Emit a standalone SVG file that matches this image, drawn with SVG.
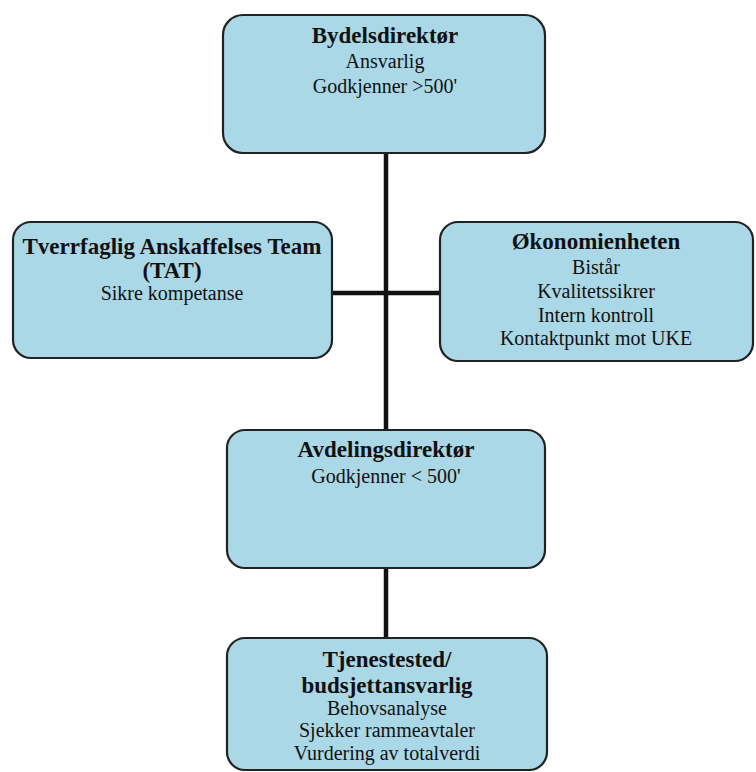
<svg xmlns="http://www.w3.org/2000/svg" width="756" height="772" viewBox="0 0 756 772">
<style>
.box{fill:#aad8e7;stroke:#222;stroke-width:2.2}
.conn{stroke:#111;stroke-width:4.5;fill:none}
text{font-family:"Liberation Serif","Times New Roman",serif;fill:#111;text-anchor:middle}
.b{font-weight:bold;font-size:23px}
.r{font-size:20px}
</style>
<rect width="756" height="772" fill="#fff"/>
<g id="connectors">
<line class="conn" x1="386" y1="153" x2="386" y2="430"/>
<line class="conn" x1="332" y1="293" x2="440" y2="293"/>
<line class="conn" x1="386" y1="568" x2="386" y2="638"/>
</g>
<g id="bydelsdirektor">
<rect class="box" x="223" y="15" width="322" height="138" rx="20"/>
<text class="b" x="385" y="43">Bydelsdirektør</text>
<text class="r" x="385" y="68">Ansvarlig</text>
<text class="r" x="385" y="93">Godkjenner &gt;500'</text>
</g>
<g id="tat">
<rect class="box" x="13" y="222" width="319" height="136" rx="18"/>
<text class="b" x="172" y="254">Tverrfaglig Anskaffelses Team</text>
<text class="b" x="172" y="278">(TAT)</text>
<text class="r" x="172" y="300">Sikre kompetanse</text>
</g>
<g id="okonomienheten">
<rect class="box" x="440" y="222" width="313" height="139" rx="18"/>
<text class="b" x="596" y="249">Økonomienheten</text>
<text class="r" x="596" y="274">Bistår</text>
<text class="r" x="596" y="298">Kvalitetssikrer</text>
<text class="r" x="596" y="322">Intern kontroll</text>
<text class="r" x="596" y="345">Kontaktpunkt mot UKE</text>
</g>
<g id="avdelingsdirektor">
<rect class="box" x="227" y="430" width="318" height="138" rx="18"/>
<text class="b" x="386" y="457">Avdelingsdirektør</text>
<text class="r" x="386" y="483">Godkjenner &lt; 500'</text>
</g>
<g id="tjenestested">
<rect class="box" x="227" y="638" width="320" height="132" rx="18"/>
<text class="b" x="387" y="667">Tjenestested/</text>
<text class="b" x="387" y="693">budsjettansvarlig</text>
<text class="r" x="387" y="715">Behovsanalyse</text>
<text class="r" x="387" y="737">Sjekker rammeavtaler</text>
<text class="r" x="387" y="760">Vurdering av totalverdi</text>
</g>
</svg>
